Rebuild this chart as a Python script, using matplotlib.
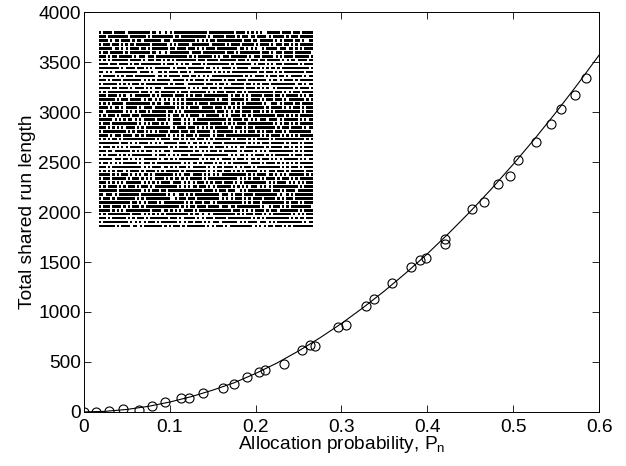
import matplotlib
matplotlib.use("Agg")
import matplotlib.pyplot as plt

plt.rcParams['font.family'] = ['Liberation Sans', 'DejaVu Sans']
plt.rcParams['mathtext.default'] = 'regular'

# measured points (allocation probability, total shared run length)
p_meas = [0.0, 0.0136, 0.0295, 0.0458, 0.064, 0.079, 0.095, 0.113, 0.122, 0.139,
          0.1616, 0.175, 0.190, 0.204, 0.211, 0.233, 0.2536, 0.263, 0.269, 0.2955,
          0.305, 0.328, 0.338, 0.359, 0.381, 0.391, 0.398, 0.420, 0.421, 0.452,
          0.466, 0.482, 0.496, 0.506, 0.527, 0.544, 0.556, 0.572, 0.585]
run_meas = [0, 0, 7, 27, 23, 63, 97, 137, 143, 187,
            240, 277, 353, 397, 420, 480, 620, 670, 660, 847,
            873, 1063, 1133, 1290, 1450, 1517, 1540, 1683, 1727, 2030,
            2103, 2283, 2357, 2520, 2703, 2883, 3030, 3173, 3340]

# fitted curve
p_fit = [0.0, 0.025, 0.05, 0.075, 0.1, 0.125, 0.15, 0.175, 0.2, 0.225, 0.25,
         0.275, 0.3, 0.325, 0.35, 0.375, 0.4, 0.425, 0.45, 0.475, 0.5, 0.525,
         0.55, 0.575, 0.6]
run_fit = [0, 6, 25, 56, 99, 153, 218, 292, 385, 490, 610,
           742, 885, 1042, 1210, 1390, 1582, 1788, 2005, 2235, 2478, 2732,
           2999, 3278, 3570]

x_ticks = [0, 0.1, 0.2, 0.3, 0.4, 0.5, 0.6]
x_ticklabels = ['0', '0.1', '0.2', '0.3', '0.4', '0.5', '0.6']
y_ticks = [0, 500, 1000, 1500, 2000, 2500, 3000, 3500, 4000]

# inset: shared runs, one string per row ('#' = shared, '.' = not)
inset_rows = [
    "#.####.#####.##########.##.#..#.#.###############.###########.####.#.#.#.#..######.####.###.#####",
    "###.#########.#######.#.#########.##.###########.#.#####.####.#.###.##.####.#.#####.#.###.######",
    "####.#.##.####.#.##.########.###.##########.#.#.#.##.###########.###.##.######.#.#.####.##.#..##",
    "#.###.###.#.#.##.######.#######.#.#.#####.########.######.#.####.#####.#.####.#.###.##.#.#.######",
    "######.##.#.#.####.##.#.#######.##.####.###.#.#.####.#########.##.#.#.#..#.#####.###.##.#.#.####",
    "#.##.######.#.#########.##.#..#.#########.####.##########.###.#.#########.###.#.###.####.#######.",
    "###.#.##.######.#.###.###.##############.#.#.######.#.#.###.#######.#.###.#####.#.#.####.######.#",
    "#.#.#.#######.#####.#.###.##.#.#.#.#########.###.#####.#######.###.#.###.##.######.#.#.##.####.##",
    "####.###.####.#.##.#########.#.###.#.#.##.####.#.##########.#.#######.#.###.#.#.###.######.#.####",
    "#########.#.####.###.#.#.#######.#.####.#######.##.#.#.####.#.#####.####.#.#.##.#.############.#",
    "##.#.#.##########.####.#..##.#.####.###.#.########.#.#.#.#.###########.##.###.#.#.#########.###",
    "#.#####.#.#.###.#########.##.#.#####.###.##.#.#.#.##############.#.#.####.#.###.##.#.#####.#.##",
    "###.#.####.########.#.#.#.######.#####.#.#.####.#.#####.#.###.####.########.#.##.#.####.#.######",
    "#.######.#.#.#.###.#.##########.#.####..#######.###.#.##.#.######.##.#.#.###.###########.##.#.##",
    "#####.##.####.#.####.#.#.###.##########.#.#.#.###.###.#.#########.####.#.#.#..#.#######.#.####.#",
    "#.#.##############.###.#.##.######.#.###.#######.#.#.###.####.##.#.###########.###.#.#.###.#####",
    "###.####.#.#..#.#######.#.#.#####.####.#.#.###.###########.#.##.#.#.#####.####.##.#.#####.#.#.##",
    "#######.#.###.#####.#.##.#.#.#.#.#.#.#.#############.#.###.######.#.####.#.###.###.#.#######.#.#",
    "#.#.#.#####.###########.#.##.###.#.#.#.###.#.####.########.##.#.#.#######.#..###.#.####.##.#####",
    "####.#.##.#.#####.#.####.#########.#.#.#.####.#####.###.#.#.#.#.##########.#.#####.#.#.###.#.###",
    "##.########.#.#.#.###.#.######.##.#.#.##############.###.#.#.##.####.###.#.#.#.###########.#.###",
    "#.#.###.#.####.###.###########.#.###.#.#.####.#.######.#.#.####.##.#.##########.###.#.#.#.######",
    "######.#.#.#.##.#.#.#####.####.#.####.#.#.#.#############.#.####.##.#.#.###.####.#.######.#.#.##",
    "#.###.###########.#.#.#.###.#.#..####.#.#.#######.#####.#.#.#.####.###########.#.#.##.#.#.######",
    "###.#.#.#.#.####.#.#.###########.#.####.###.#.#.#.#.######.#.###.#.##.#########.#.###.#####.#.##",
    "#.##########.#.#.###.#.#.#.####.####.###.##.######.#.#######.#.#.#.###.#.#.###.###.#.##########.",
    "####.#.###.####.##.#.#########.#.#.#.#.###.#.#####.#.###.###############.#.#.####.#.#.#.#.######",
    "#.#.#.##.#.##############.#.####.###.#.#.##.###.#.#.#######.#.####.#.#.#####.#.#############.#.#",
    "#########.###.#.#.####.#.#.#.######.###.#.##.#.#.#.####.##########.#.#.#.###.######.#.###.#.####",
    "#.###.#.#.#.#.#####.###########.#.#.####.#.#.####.#.####.#.#.#.##.########.#.#####.##.#.#.#.####",
    "###.##.#######.#.#.#.###.#.#.###.#########.##.#.#.###.#.######.#.####.#.#.#.###########.#.#.####",
    "#.#.####.#.#.#.#########.#.###.#.#.#.###.#####.###########.#.#.##.#.#.####.#.#.######.#.###.####",
    "######.###.##.#.#.#.######.#.##.#.#.#########.#.#.##.#.####.#.###.#.##.#.###.#.#.#.######.#.#.##",
    "#.##.#.#.#.######.#.###.#.###########.#.#.##.#.####.#.#.#.#.#######.####.#.####.#.#.#.#.#.######",
    "###.#.#############.#.#.####.##.#.#.###.#.######.#.#.##.####.#.#.###.#.##########.#.#.###.#.####",
    "#.#.#.#.###.#.####.#.####.#.#.######.#.#########.#.#.##.###.#.#.#.#####.#.#.###.###.#.######.###",
    "#####.#.#.###.#.#.#.##.#.########.#.#.###.####.#.#.#.#.###########.#.#.####.##.#.#.#.#######.#.#",
    "#.###.######.#.###.#.#.#.####.#.#.##.#.#.#####.#.#############.#.#.#.###.#.####.#.###.#.#.######",
    "###.#.#.#.#.#######.#.#.#.#.####.####.#.#.#.###.#.#.###.####.#.#.##########.#.#.####.#.#.#.#.###",
    "#.#.####.#.#.###.#.###.#.##########.#.#.#.##.###.#.#.######.#.#.#.#.###.#.#.#.###########.#.####",
    "########.##########.#.#.###.##.###############.####.#.###.###..#.#.##########.###.#.####.#######",
    "##.###.#.#########.###########.#.#..##.#.#.###########.###.#.###.####.##########.#..#.#.########",
    "#.###.#.########.#.#.###########..#.###.###.##########.#.#.#.###.#.#.####.#####.#.#.###.########",
    "##############.##.#.#.####.#.#########.#.#.###.###.#.###########.#.#.###.##########.#.###.#.####",
    "#.###.####.#.#.###.#.###############.#.#.##.####.#####.###.##.##########.#..#.###.#.#.#########.",
    "#####.#.#.#.###########.####.##.#.#.#.####.#.##############.###.#.#.#.####.#.###.########.#.####",
    "#.#.##########.####.#.#.#.#.#.##########.#.##.#..#.##########.#.#.###.###.#.#.########.#.#.#.###",
    "###.#.######.#.#.###.#.########.###.#.#####.#.#.###.#####.##########.#.#.#.##########.#.#.##.###",
    "#.###########.#.#.#.#.###.#.#######.#.#.##.###.#.#.###.#######.#.#.####.###.#.#.###########.#.##",
    "#######.#.####.##.#.########.#.#.###.#.########.#.#.###.#.##########.#.#.#.##.###.#.#.#########",
]

fig = plt.figure(figsize=(6.26, 4.66), dpi=100)
ax = fig.add_axes([0.134, 0.116, 0.823, 0.858])

ax.plot(p_fit, run_fit, color='black', linewidth=0.8)
ax.plot(p_meas, run_meas, linestyle='none', marker='o', markersize=6.5,
        markerfacecolor='none', markeredgecolor='black', markeredgewidth=0.8)

ax.set_xlim(0, 0.6)
ax.set_ylim(0, 4000)
ax.set_xticks(x_ticks)
ax.set_xticklabels(x_ticklabels)
ax.set_yticks(y_ticks)
ax.tick_params(direction='in', length=5, width=0.6, labelsize=13.8,
               top=True, right=True)
ax.tick_params(axis='x', pad=5)
ax.tick_params(axis='y', pad=2)
for s in ax.spines.values():
    s.set_linewidth(0.7)

ax.set_xlabel('Allocation probability, P$_{n}$', fontsize=13.8, labelpad=-1)
ax.set_ylabel('Total shared run length', fontsize=13.8, labelpad=2)

# inset pattern
ins = ax.inset_axes([0.0175, 1840, 0.2495, 1975], transform=ax.transData)
nrows = len(inset_rows)
for i, row in enumerate(inset_rows):
    n = len(row)
    segs = []
    j = 0
    while j < n:
        if row[j] == '#':
            k = j
            while k < n and row[k] == '#':
                k += 1
            segs.append((j / n, (k - j) / n))
            j = k
        else:
            j += 1
    y0 = nrows - 1 - i
    ins.broken_barh(segs, (y0 + 0.18, 0.64), facecolors='black')
ins.set_xlim(0, 1)
ins.set_ylim(0, nrows)
ins.axis('off')

fig.savefig('out.png', dpi=100)
